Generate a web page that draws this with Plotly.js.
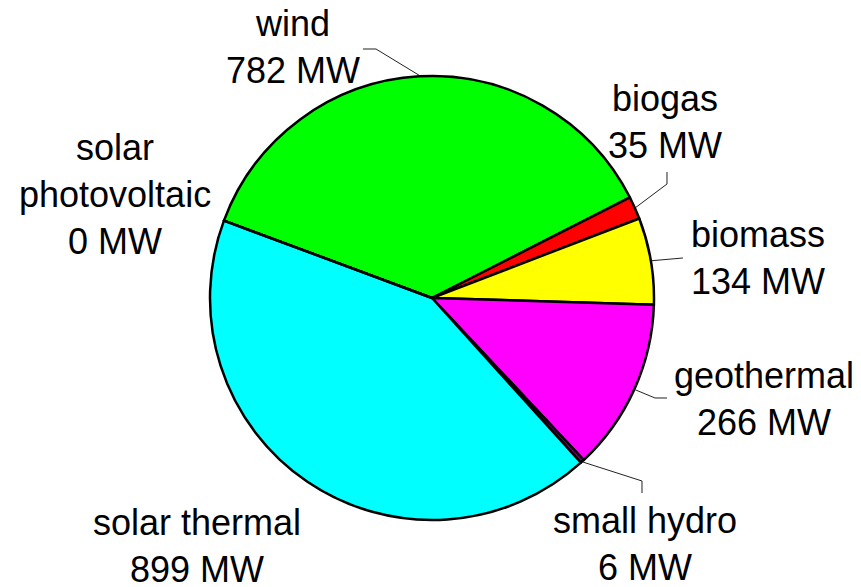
<!DOCTYPE html>
<html>
<head>
<meta charset="utf-8">
<script src="https://cdn.plot.ly/plotly-3.0.1.min.js"></script>
<style>
html,body{margin:0;padding:0;background:#fff;}
#chart{width:861px;height:587px;}
</style>
</head>
<body>
<div id="chart"></div>
<script>
// ---- data ----
const categories = ["wind", "biogas", "biomass", "geothermal", "small hydro", "solar thermal", "solar photovoltaic"];
const labelLines = [["wind"], ["biogas"], ["biomass"], ["geothermal"], ["small hydro"], ["solar thermal"], ["solar", "photovoltaic"]];
const valuesMW = [782, 35, 134, 266, 6, 899, 0];
const unit = "MW";
const sliceColors = ["#00FF00", "#FF0000", "#FFFF00", "#FF00FF", "#800080", "#00FFFF", "#000080"];

// ---- layout constants (pixels) ----
const W = 861, H = 587;
const CX = 432, CY = 298, R = 222;
const ROTATION = -69.6;
// label block centres and leader-line bends (pixels), per slice (null = no leader)
const labelPos = [[293, 47], [665, 122], [758, 258], [764, 399], [645, 544], [197, 546], [115, 195]];
const leaderBend = [[[376, 49], [363, 49]], [[667, 184], [667, 172]], [[683, 258]], [[655, 398], [667, 398]], [[642, 481], [642, 493]], null, null];

const px = x => x / W;
const py = y => 1 - y / H;

const total = valuesMW.reduce((a, b) => a + b, 0);

const shapes = [];
let cum = 0;
valuesMW.forEach((v, i) => {
  const mid = cum + v / 2;
  cum += v;
  if (!leaderBend[i]) return;
  const a = (ROTATION + 360 * mid / total) * Math.PI / 180;
  const sx = CX + (R + 1) * Math.sin(a);
  const sy = CY - (R + 1) * Math.cos(a);
  const pts = [[sx, sy]].concat(leaderBend[i]);
  const path = pts.map((p, k) => (k ? "L" : "M") + px(p[0]).toFixed(5) + "," + py(p[1]).toFixed(5)).join(" ");
  shapes.push({type: "path", xref: "paper", yref: "paper", path: path,
               line: {color: "#222", width: 1}});
});

const annotations = categories.map((c, i) => ({
  xref: "paper", yref: "paper",
  x: px(labelPos[i][0]), y: py(labelPos[i][1]),
  xanchor: "center", yanchor: "middle", align: "center",
  showarrow: false,
  text: labelLines[i].concat([valuesMW[i] + " " + unit]).join("<br>"),
  font: {family: "Liberation Sans, Arial, sans-serif", size: 36, color: "#000"}
}));

const trace = {
  type: "pie",
  labels: categories,
  values: valuesMW,
  sort: false,
  direction: "clockwise",
  rotation: ROTATION,
  textinfo: "none",
  hoverinfo: "label+value",
  marker: {colors: sliceColors, line: {color: "#000", width: 2.5}},
  domain: {x: [px(CX - R), px(CX + R)], y: [py(CY + R), py(CY - R)]},
  showlegend: false
};

const layout = {
  width: W, height: H,
  margin: {l: 0, r: 0, t: 0, b: 0},
  paper_bgcolor: "#fff",
  showlegend: false,
  shapes: shapes,
  annotations: annotations
};

Plotly.newPlot("chart", [trace], layout, {displayModeBar: false, staticPlot: true});
</script>
</body>
</html>
